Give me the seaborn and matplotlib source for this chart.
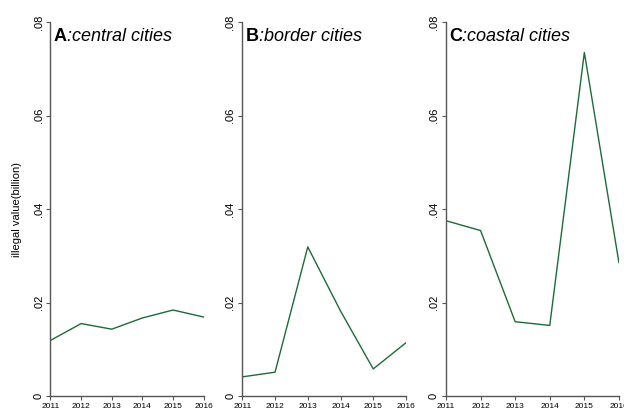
import numpy as np
import pandas as pd
import matplotlib
matplotlib.use("Agg")
import matplotlib.pyplot as plt
import seaborn as sns

# values (billion)
years = [2011, 2012, 2013, 2014, 2015, 2016]
central = [0.0119, 0.0155, 0.0143, 0.0167, 0.0184, 0.0169]
border = [0.0041, 0.0051, 0.0319, 0.0182, 0.0058, 0.0114]
coastal = [0.0375, 0.0354, 0.0159, 0.0151, 0.0735, 0.0285]

panels = [("A", ":central cities", central),
          ("B", ":border cities", border),
          ("C", ":coastal cities", coastal)]
yticks = [0, 0.02, 0.04, 0.06, 0.08]
ytick_labels = ["0", ".02", ".04", ".06", ".08"]

sns.set_style("ticks")
plt.rcParams['font.family'] = ['Liberation Sans', 'DejaVu Sans']
plt.rcParams['text.color'] = 'black'
plt.rcParams['xtick.labelcolor'] = 'black'
plt.rcParams['ytick.labelcolor'] = 'black'
plt.rcParams['axes.labelcolor'] = 'black'

fig = plt.figure(figsize=(6.24, 4.16), dpi=100)

# axes rectangles (left, bottom, width, height) in figure fraction
boxes = [(0.0809, 0.048, 0.2455, 0.899),
         (0.3883, 0.048, 0.2623, 0.899),
         (0.7147, 0.048, 0.2772, 0.899)]

for i, (letter, name, vals) in enumerate(panels):
    ax = fig.add_axes(boxes[i])
    df = pd.DataFrame({"year": years, "value": vals})
    sns.lineplot(data=df, x="year", y="value", ax=ax, color="#1d6b38", linewidth=1.0)
    ax.set_xlim(2011, 2016)
    ax.set_ylim(0, 0.08)
    ax.set_xticks(years)
    ax.set_xticklabels([str(y) for y in years], fontsize=6)
    ax.set_yticks(yticks)
    ax.set_yticklabels(ytick_labels, fontsize=8, rotation=90, va="center")
    ax.set_xlabel("")
    ax.set_ylabel("illegal value(billion)" if i == 0 else "", fontsize=8, labelpad=8)
    sns.despine(ax=ax)
    for s in ["left", "bottom"]:
        ax.spines[s].set_color("#555555")
        ax.spines[s].set_linewidth(1.0)
    ax.tick_params(axis="both", length=3, width=0.8, color="#555555", pad=2)
    # bold panel letter followed by italic group name
    lt = ax.text(0.02, 0.985, letter, transform=ax.transAxes, fontsize=13,
                 fontweight="bold", va="top", ha="left", color="black")
    ax.annotate(name, xy=(1, 1), xycoords=lt, fontsize=13,
                fontstyle="italic", va="top", ha="left", color="black")

fig.savefig("out.png", dpi=100)
